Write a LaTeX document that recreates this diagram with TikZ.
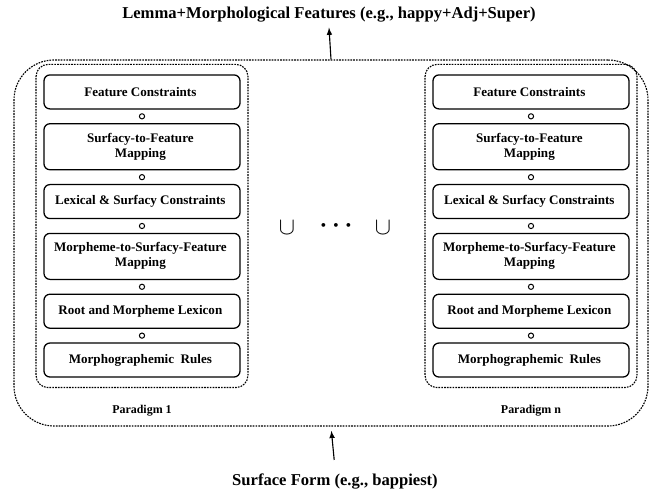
\documentclass[tikz,border=0pt]{standalone}
\usepackage{fontspec}
\setmainfont{Liberation Serif}
\usetikzlibrary{matrix,arrows,fit,positioning}

\newcommand{\twolines}[2]{\begin{tabular}{@{}c@{}}#1\\#2\end{tabular}}

\tikzset{
  blk/.style={draw, line width=0.9pt, rounded corners=0.15cm, minimum width=4.9cm,
    minimum height=0.85cm, align=center, inner sep=1pt,
    font=\fontsize{9.3}{10.5}\selectfont\bfseries},
  blk2/.style={blk, minimum height=1.15cm},
  op/.style={draw, circle, line width=0.7pt, minimum size=0.13cm, inner sep=0pt},
  grp/.style={draw, line width=0.8pt, dash pattern=on 1.2pt off 0.8pt,
    rounded corners=0.3cm, inner xsep=0.175cm, inner ysep=0.24cm},
  outer/.style={draw, line width=0.8pt, dash pattern=on 1.2pt off 0.8pt,
    rounded corners=1cm, inner sep=0pt},
  lbl/.style={font=\fontsize{8.5}{10}\selectfont\bfseries},
  io/.style={font=\fontsize{11.8}{13}\selectfont\bfseries},
}

\begin{document}
\begin{tikzpicture}[x=0.025cm, y=-0.025cm]
  \useasboundingbox (0,0) rectangle (654,493);
  \matrix (l) [matrix of nodes, row sep=0.092cm, inner sep=0pt, anchor=north] at (142,74)
  {
|[blk]| Feature Constraints \\
|[op]| {} \\
|[blk2]| \twolines{Surfacy-to-Feature}{Mapping} \\
|[op]| {} \\
|[blk]| Lexical \& Surfacy Constraints \\
|[op]| {} \\
|[blk2]| \twolines{Morpheme-to-Surfacy-Feature}{Mapping} \\
|[op]| {} \\
|[blk]| Root and Morpheme Lexicon \\
|[op]| {} \\
|[blk]| Morphographemic\enspace Rules \\
};
  \matrix (r) [matrix of nodes, row sep=0.092cm, inner sep=0pt, anchor=north] at (531,74)
  {
|[blk]| Feature Constraints \\
|[op]| {} \\
|[blk2]| \twolines{Surfacy-to-Feature}{Mapping} \\
|[op]| {} \\
|[blk]| Lexical \& Surfacy Constraints \\
|[op]| {} \\
|[blk2]| \twolines{Morpheme-to-Surfacy-Feature}{Mapping} \\
|[op]| {} \\
|[blk]| Root and Morpheme Lexicon \\
|[op]| {} \\
|[blk]| Morphographemic\enspace Rules \\
};
  \node[grp, fit=(l)] (lgrp) {};
  \node[grp, fit=(r)] (rgrp) {};
  \node[lbl, below=0.3cm of lgrp] (lpar) {Paradigm 1};
  \node[lbl, below=0.3cm of rgrp] (rpar) {Paradigm n};

  \node[font=\LARGE] (u1) at (287,228) {$\cup$};
  \node[font=\LARGE\boldmath] (dots) at (336,226) {$\cdots$};
  \node[font=\LARGE] (u2) at (383,228) {$\cup$};

  \coordinate (ol) at (14,60);
  \coordinate (or) at (648,426);
  \node[outer, fit=(ol)(or)] (all) {};

  \node[io] (lemma) at (329,15) {Lemma+Morphological Features (e.g., happy+Adj+Super)};
  \node[io] (surf) at (335,481) {Surface Form (e.g., bappiest)};
  \path[-latex, line width=0.8pt]
  (all.north) edge (lemma.south)
  (surf.north) edge[shorten <=6pt, shorten >=3pt] (all.south)
  ;
\end{tikzpicture}
\end{document}
